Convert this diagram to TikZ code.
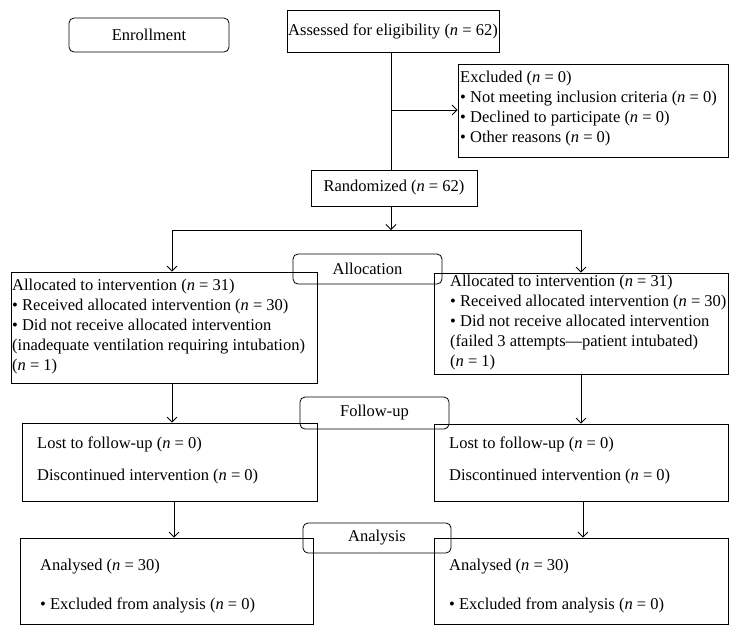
\documentclass[tikz,border=0pt]{standalone}
\usepackage{fontspec}
\setmainfont{Liberation Serif}
\usetikzlibrary{arrows.meta}
\begin{document}
\begin{tikzpicture}[x=1pt,y=-1pt,
  box/.style={draw, line width=0.8pt, inner sep=0pt},
  rbox/.style={draw, line width=0.8pt, rounded corners=5pt, inner sep=0pt, font=\fontsize{16.5}{20}\selectfont},
  txt/.style={inner sep=0pt, align=left, anchor=west, font=\fontsize{16.5}{20}\selectfont},
  ctxt/.style={draw, line width=0.8pt, inner sep=0pt, font=\fontsize{16.5}{20}\selectfont},
  arr/.style={line width=0.8pt, -{Straight Barb[length=5pt,width=10pt]}},
  ln/.style={line width=0.8pt}]
\useasboundingbox (0,0) rectangle (739,635);
\newcommand{\nn}{\textit{n}}
% top part
\node[rbox, minimum width=160pt, minimum height=34pt] (enr) at (149,35) {Enrollment};
\node[ctxt, minimum width=212pt, minimum height=42pt] (ass) at (393,31) {Assessed for eligibility (\nn{} = 62)};
\node[box, minimum width=270pt, minimum height=93pt] (excl) at (593,110.5) {};
\node[txt] (exclt) at (460,109) {Excluded (\nn{} = 0)\\
\textbullet{} Not meeting inclusion criteria (\nn{} = 0)\\
\textbullet{} Declined to participate (\nn{} = 0)\\
\textbullet{} Other reasons (\nn{} = 0)};
\node[ctxt, minimum width=166pt, minimum height=36pt] (rand) at (394,188) {Randomized (\nn{} = 62)};
% allocation
\node[box, minimum width=306pt, minimum height=111pt] (la) at (164,327.5) {};
\node[txt] (lat) at (12,327) {Allocated to intervention (\nn{} = 31)\\
\textbullet{} Received allocated intervention (\nn{} = 30)\\
\textbullet{} Did not receive allocated intervention\\
(inadequate ventilation requiring intubation)\\
(\nn{} = 1)};
\node[box, minimum width=294pt, minimum height=101pt] (ra) at (581,323.5) {};
\node[txt] (rat) at (450,323) {Allocated to intervention (\nn{} = 31)\\
\textbullet{} Received allocated intervention (\nn{} = 30)\\
\textbullet{} Did not receive allocated intervention\\
(failed 3 attempts---patient intubated)\\
(\nn{} = 1)};
% follow-up
\node[box, minimum width=295pt, minimum height=78pt] (lf) at (169.5,462) {};
\node[txt] (lft) at (37,460) {Lost to follow-up (\nn{} = 0)\\[12pt]
Discontinued intervention (\nn{} = 0)};
\node[box, minimum width=294pt, minimum height=77pt] (rf) at (581,462.5) {};
\node[txt] (rft) at (449,460) {Lost to follow-up (\nn{} = 0)\\[12pt]
Discontinued intervention (\nn{} = 0)};
% analysis
\node[box, minimum width=293pt, minimum height=86pt] (lan) at (166.5,581) {};
\node[txt] (lant) at (40,586) {Analysed (\nn{} = 30)\\[19pt]
\textbullet{} Excluded from analysis (\nn{} = 0)};
\node[box, minimum width=294pt, minimum height=86pt] (ran) at (581,581) {};
\node[txt] (rant) at (449,586) {Analysed (\nn{} = 30)\\[19pt]
\textbullet{} Excluded from analysis (\nn{} = 0)};
% stage labels
\node[rbox, minimum width=149pt, minimum height=30pt] (alloc) at (367.5,269) {Allocation};
\node[rbox, minimum width=149pt, minimum height=32pt] (fol) at (374.5,413) {Follow-up};
\node[rbox, minimum width=148pt, minimum height=30pt] (ana) at (377,538) {Analysis};
% connectors
\coordinate (j1) at (391,110);
\coordinate (j2) at (391,230);
\coordinate (jl) at (172,230);
\coordinate (jr) at (581,230);
\coordinate (kl) at (174,520);
\coordinate (kr) at (583,520);
\draw[ln] (ass.south -| j1) -- (j1);
\draw[ln] (j1) -- (rand.north -| j1);
\draw[arr] (j1) -- (excl.west |- j1);
\draw[arr] (rand.south -| j2) -- (j2);
\draw[ln] (jl) -- (jr);
\draw[arr] (jl) -- (la.north -| jl);
\draw[arr] (jr) -- (ra.north -| jr);
\draw[arr] (la.south -| jl) -- (lf.north -| jl);
\draw[arr] (ra.south -| jr) -- (rf.north -| jr);
\draw[arr] (lf.south -| kl) -- (lan.north -| kl);
\draw[arr] (rf.south -| kr) -- (ran.north -| kr);
\end{tikzpicture}
\end{document}
